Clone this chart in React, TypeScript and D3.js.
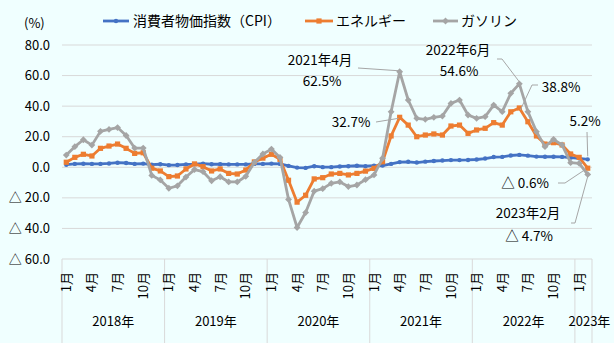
import React from "react";
import * as d3 from "d3";

const years = ["2018年", "2019年", "2020年", "2021年", "2022年", "2023年"];
const monthsPerYear = [12, 12, 12, 12, 12, 2];

const cpi = [
  1.7, 2.2, 2.3, 2.2, 2.2, 2.5, 3.0, 2.8, 2.2, 2.4, 1.7, 2.0,
  1.4, 1.5, 1.9, 2.0, 2.4, 2.0, 2.0, 1.9, 1.9, 1.9, 2.2, 2.2,
  2.4, 2.2, 0.9, -0.2, -0.4, 0.7, 0.1, 0.1, 0.5, 0.7, 1.0, 0.7,
  1.0, 1.1, 2.2, 3.4, 3.6, 3.1, 3.7, 4.1, 4.4, 4.7, 4.7, 4.8,
  5.1, 5.7, 6.7, 6.8, 7.7, 8.1, 7.6, 7.0, 6.9, 6.9, 6.8, 6.3,
  5.9, 5.2,
];
const energy = [
  3.3, 6.5, 8.5, 7.4, 12.4, 13.9, 15.2, 12.4, 9.1, 9.5, -0.6, -2.4,
  -6.1, -5.7, -1.1, 2.2, 0.4, -2.4, -1.1, -4.0, -4.4, -1.8, 3.5, 6.0,
  8.5, 5.2, -8.5, -22.8, -18.3, -7.6, -6.8, -4.4, -4.0, -5.0, -4.0, -2.5,
  -0.7, 3.6, 20.5, 32.7, 27.6, 20.0, 21.1, 21.8, 21.1, 27.0, 27.6, 22.2,
  24.4, 25.5, 29.2, 27.6, 36.3, 38.8, 29.8, 20.5, 15.2, 16.1, 14.6, 8.7,
  6.5, -0.6,
];
const gasoline = [
  8.0, 13.5, 18.0, 14.5, 23.5, 24.8, 26.0, 20.8, 12.6, 12.6, -5.3, -8.3,
  -13.7, -12.1, -6.4, -1.5, -2.9, -8.8, -6.2, -9.6, -9.6, -5.9, 3.2, 8.7,
  11.9, 6.4, -21.0, -39.4, -29.6, -15.6, -14.0, -10.5, -9.6, -12.6, -11.6, -8.1,
  -5.0, 5.9, 36.3, 62.5, 44.0, 32.0, 31.4, 32.7, 33.5, 41.8, 44.0, 34.2,
  32.0, 33.1, 40.7, 36.4, 48.4, 54.6, 36.4, 23.3, 13.5, 18.3, 14.6, 3.0,
  2.6, -4.7,
];
const yTicks = [80, 60, 40, 20, 0, -20, -40, -60];
const monthLabelMonths = [1, 4, 7, 10];
const seriesNames = ["消費者物価指数（CPI）", "エネルギー", "ガソリン"];
const colors = ["#4472C4", "#ED7D31", "#A5A5A5"];

const W = 614;
const H = 343;
const FONT = "'Noto Sans CJK JP', 'Noto Sans', sans-serif";

type Pt = { i: number; v: number };

function Marker({ kind, x, y, color }: { kind: number; x: number; y: number; color: string }) {
  if (kind === 0) return <circle cx={x} cy={y} r={2.2} fill={color} />;
  if (kind === 1) return <rect x={x - 2.6} y={y - 2.6} width={5.2} height={5.2} fill={color} />;
  return <path d={`M${x},${y - 3.4}L${x + 3.4},${y}L${x},${y + 3.4}L${x - 3.4},${y}Z`} fill={color} />;
}

export default function App() {
  const n = cpi.length;
  const left = 62;
  const right = 592;
  const top = 45;
  const bottom = 259;
  const idx = d3.range(n);
  const x = d3.scaleBand<number>().domain(idx).range([left, right]).padding(0);
  const cx = (i: number) => (x(i) as number) + x.bandwidth() / 2;
  const y = d3.scaleLinear().domain([-60, 80]).range([bottom, top]);

  const series = [cpi, energy, gasoline];
  const line = d3
    .line<Pt>()
    .x((d) => cx(d.i))
    .y((d) => y(d.v));

  // year groups
  let start = 0;
  const groups = years.map((yr, k) => {
    const g = { label: yr, s: start, e: start + monthsPerYear[k] };
    start += monthsPerYear[k];
    return g;
  });

  const fmt = (v: number) => (v < 0 ? "△ " + Math.abs(v).toFixed(1) : v.toFixed(1));

  const monthLabels: { i: number; t: string }[] = [];
  groups.forEach((g) => {
    for (let m = 1; m <= g.e - g.s; m++) {
      if (monthLabelMonths.includes(m)) monthLabels.push({ i: g.s + m - 1, t: m + "月" });
    }
  });

  const lead = "#A6A6A6";
  const iApr21 = 39, iJun22 = 53, iFeb23 = 61;

  return (
    <svg width={W} height={H} style={{ position: "absolute", left: 0, top: 0 }} fontFamily={FONT}>
      <rect x={0} y={0} width={W} height={H} fill="#F0FFFF" />
      {/* gridlines */}
      {yTicks.map((t) => (
        <line key={t} x1={left} x2={right} y1={y(t)} y2={y(t)} stroke="#D9D9D9" strokeWidth={1} />
      ))}
      {/* y tick labels */}
      {yTicks.map((t) => (
        <text key={"l" + t} x={50} y={y(t)} dy="0.35em" textAnchor="end" fontSize={13} fill="#000">
          {fmt(t)}
        </text>
      ))}
      <text x={24} y={23} dy="0.35em" fontSize={13} fill="#000">(%)</text>

      {/* x axis group separators */}
      {groups.map((g) => (
        <line key={"s" + g.label} x1={x(g.s) as number} x2={x(g.s) as number} y1={bottom} y2={H} stroke="#D9D9D9" />
      ))}
      <line x1={right} x2={right} y1={bottom} y2={H} stroke="#D9D9D9" />
      {monthLabels.map((m) => (
        <text
          key={"m" + m.i}
          transform={`translate(${cx(m.i)},272) rotate(-90)`}
          textAnchor="end"
          dy="0.35em"
          fontSize={13}
          fill="#000"
        >
          {m.t}
        </text>
      ))}
      {groups.map((g, k) => {
        const mid = ((x(g.s) as number) + (g.e >= n ? right : (x(g.e) as number))) / 2;
        return (
          <text key={"y" + g.label} x={k === groups.length - 1 ? mid + 6 : mid} y={321} dy="0.35em" textAnchor="middle" fontSize={13} fill="#000">
            {g.label}
          </text>
        );
      })}

      {/* series */}
      {series.map((s, k) => {
        const pts: Pt[] = s.map((v, i) => ({ i, v }));
        return (
          <g key={"ser" + k}>
            <path d={line(pts) as string} fill="none" stroke={colors[k]} strokeWidth={2.8} strokeLinejoin="round" />
            {pts.map((p) => (
              <Marker key={p.i} kind={k} x={cx(p.i)} y={y(p.v)} color={colors[k]} />
            ))}
          </g>
        );
      })}

      {/* legend */}
      {[{ x1: 103, x2: 129, tx: 133 }, { x1: 305, x2: 333, tx: 336 }, { x1: 433, x2: 458, tx: 461 }].map((l, k) => (
        <g key={"lg" + k}>
          <line x1={l.x1} x2={l.x2} y1={21} y2={21} stroke={colors[k]} strokeWidth={2.8} />
          <Marker kind={k} x={(l.x1 + l.x2) / 2} y={21} color={colors[k]} />
          <text x={l.tx} y={21} dy="0.35em" fontSize={14} fill="#000">
            {seriesNames[k]}
          </text>
        </g>
      ))}

      {/* annotations */}
      <g fontSize={13.5} fill="#000" textAnchor="middle">
        <text x={320} y={60} dy="0.35em">2021年4月</text>
        <text x={322} y={81} dy="0.35em">62.5%</text>
        <text x={351} y={122} dy="0.35em">32.7%</text>
        <text x={458} y={50} dy="0.35em">2022年6月</text>
        <text x={459} y={71} dy="0.35em">54.6%</text>
        <text x={561} y={87} dy="0.35em">38.8%</text>
        <text x={585} y={121} dy="0.35em">5.2%</text>
        <text x={525} y={183} dy="0.35em">△ 0.6%</text>
        <text x={528} y={213} dy="0.35em">2023年2月</text>
        <text x={529} y={236} dy="0.35em">△ 4.7%</text>
      </g>
      <g fill="none" stroke={lead} strokeWidth={1}>
        <polyline points={`358,68 ${cx(iApr21) - 1},${y(gasoline[iApr21]) - 1}`} />
        <polyline points={`376,122 ${cx(iApr21) - 1},${y(energy[iApr21]) + 1}`} />
        <polyline points={`497,59 502,59 ${cx(iJun22)},${y(gasoline[iJun22]) - 2}`} />
        <polyline points={`538,85 532,85 ${cx(iJun22) + 1},${y(energy[iJun22]) + 2}`} />
        <polyline points={`587,132 ${cx(iFeb23)},${y(cpi[iFeb23]) - 3}`} />
        <polyline points={`558,183 565,183 ${cx(iFeb23) - 2},${y(energy[iFeb23]) + 1}`} />
        <polyline points={`571,223 575,223 ${cx(iFeb23)},${y(gasoline[iFeb23]) + 2}`} />
      </g>
    </svg>
  );
}
